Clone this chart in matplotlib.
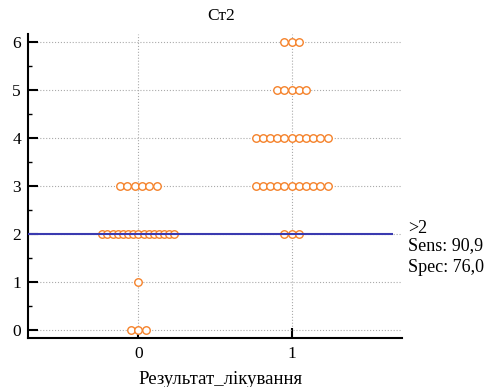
import matplotlib
matplotlib.use("Agg")
import matplotlib.pyplot as plt
import numpy as np

plt.rcParams['font.family'] = ['Liberation Serif', 'DejaVu Serif']

title = "Ст2"
xlabel = "Результат_лікування"
groups = [0, 1]
group_labels = ["0", "1"]
values = [0, 1, 2, 3, 4, 5, 6]
counts_group0 = [3, 1, 15, 6, 0, 0, 0]
counts_group1 = [0, 0, 3, 11, 11, 5, 3]
cutoff = 2
annot_lines = [">2", "Sens: 90,9", "Spec: 76,0"]

fig = plt.figure(figsize=(4.86, 3.87), dpi=100)
ax = fig.add_axes([28/486, 1-338/387, (402-28)/486, (338-34)/387])

spacing = 0.048
max_span = 0.47
color = '#f5822a'
for g, counts in zip(groups, [counts_group0, counts_group1]):
    for v, n in zip(values, counts):
        if n == 0:
            continue
        sp = spacing if n == 1 else min(spacing, max_span / (n - 1))
        offs = (np.arange(n) - (n - 1) / 2) * sp
        ax.plot(g + offs, np.full(n, v), 'o', ms=5.4, mfc='white', mec=color, mew=1.0,
                zorder=3, linestyle='none')

ax.set_xlim(-0.72, 1.72)
ax.set_ylim(-0.17, 6.17)
ax.hlines(cutoff, -0.72, 1.66, color='#3a3ab0', lw=1.5, zorder=4)

ax.set_xticks(groups)
ax.set_xticklabels(group_labels)
ax.set_yticks(values)
ax.set_yticks(np.arange(0.5, 6, 1), minor=True)
ax.tick_params(axis='both', which='major', direction='in', length=7, width=1.5, labelsize=12.5, pad=5)
ax.tick_params(axis='y', which='minor', direction='in', length=3, width=1)
ax.tick_params(axis='x', which='major', pad=6)
ax.grid(True, which='major', color='#aaaaaa', linestyle=':', linewidth=0.8)
ax.set_axisbelow(True)
for s in ['top', 'right']:
    ax.spines[s].set_visible(False)
for s in ['left', 'bottom']:
    ax.spines[s].set_linewidth(1.5)

fig.text(221/486, 1-16/387, title, ha='center', va='center', fontsize=12.5)
fig.text(221/486, 1-379/387, xlabel, ha='center', va='center', fontsize=13.5)
ys = [228, 246, 267]
for t, y in zip(annot_lines, ys):
    fig.text(408/486, 1-y/387, t, ha='left', va='center', fontsize=13)

fig.savefig("out.png", dpi=100)
